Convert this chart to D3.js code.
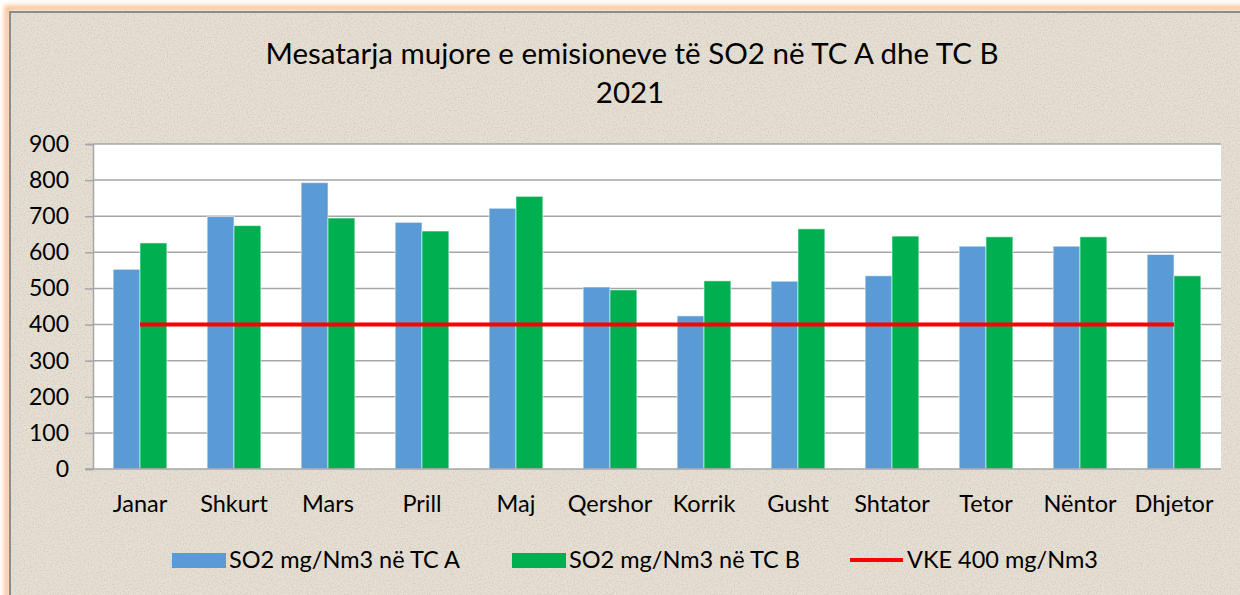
<!DOCTYPE html>
<html>
<head>
<meta charset="utf-8">
<script src="https://cdn.jsdelivr.net/npm/d3@7"></script>
<style>
  html, body { margin: 0; padding: 0; background: #ffffff; }
  svg { display: block; font-family: Lato, "Open Sans", sans-serif; }
</style>
</head>
<body>
<div id="chart"></div>
<script>
// Data
const months = ['Janar', 'Shkurt', 'Mars', 'Prill', 'Maj', 'Qershor', 'Korrik', 'Gusht', 'Shtator', 'Tetor', 'Nëntor', 'Dhjetor'];
const tcA = [553, 699, 793, 683, 722, 504, 424, 520, 535, 617, 617, 594];
const tcB = [626, 674, 695, 659, 755, 496, 521, 665, 645, 643, 643, 535];
const limitValue = 400;
const yTicks = [0, 100, 200, 300, 400, 500, 600, 700, 800, 900];
const seriesNames = ['SO2 mg/Nm3 në TC A', 'SO2 mg/Nm3 në TC B', 'VKE 400 mg/Nm3'];
const titleLines = ['Mesatarja mujore e emisioneve të SO2 në TC A dhe TC B', '2021'];

const W = 1240, H = 595;
const colors = { a: '#5b9bd5', b: '#00b050', limit: '#ff0000', grid: '#a6a6a6', text: '#000000' };

const svg = d3.select('#chart').append('svg')
    .attr('width', W)
    .attr('height', H);

const defs = svg.append('defs');

// parchment-like speckle texture
const filt = defs.append('filter').attr('id', 'paper').attr('x', 0).attr('y', 0).attr('width', '100%').attr('height', '100%');
filt.append('feTurbulence').attr('type', 'fractalNoise').attr('baseFrequency', 0.7).attr('numOctaves', 2).attr('seed', 3).attr('result', 'noise');
filt.append('feColorMatrix').attr('in', 'noise').attr('type', 'matrix')
    .attr('values', '0 0 0 0 0.55  0 0 0 0 0.50  0 0 0 0 0.43  0 0 0 -2.2 1.25')
    .attr('result', 'spk');
filt.append('feComposite').attr('in', 'spk').attr('in2', 'SourceGraphic').attr('operator', 'in');

const glow = defs.append('filter').attr('id', 'glow').attr('x', '-5%').attr('y', '-5%').attr('width', '110%').attr('height', '110%');
glow.append('feGaussianBlur').attr('stdDeviation', 2.5);

// Outer frame
svg.append('rect')
    .attr('x', 7).attr('y', 8).attr('width', W + 20).attr('height', H + 20)
    .attr('fill', 'none').attr('stroke', '#f9b98a').attr('stroke-width', 5)
    .attr('filter', 'url(#glow)');
svg.append('rect')
    .attr('x', 10).attr('y', 12).attr('width', W + 20).attr('height', H + 20)
    .attr('fill', '#e6dfd3');
svg.append('rect')
    .attr('x', 10).attr('y', 12).attr('width', W + 20).attr('height', H + 20)
    .attr('fill', '#e6dfd3').attr('filter', 'url(#paper)').attr('opacity', 0.6);
svg.append('rect')
    .attr('x', 10).attr('y', 12).attr('width', W + 20).attr('height', H + 20)
    .attr('fill', 'none').attr('stroke', '#8c8c8c').attr('stroke-width', 2);

// Plot area
const plot = { left: 93, right: 1221, top: 144, bottom: 469 };

const x = d3.scaleBand()
    .domain(months)
    .range([plot.left, plot.right])
    .paddingInner(1.5 / 3.5)
    .paddingOuter(1.5 / 7);

const xSub = d3.scaleBand()
    .domain(['a', 'b'])
    .range([0, x.bandwidth()]);

const y = d3.scaleLinear()
    .domain([0, 900])
    .range([plot.bottom, plot.top]);

svg.append('rect')
    .attr('x', plot.left).attr('y', plot.top)
    .attr('width', plot.right - plot.left).attr('height', plot.bottom - plot.top)
    .attr('fill', '#ffffff');

// gridlines
svg.append('g').selectAll('line')
    .data(yTicks.filter(d => d > 0))
    .join('line')
    .attr('x1', plot.left).attr('x2', plot.right)
    .attr('y1', d => y(d)).attr('y2', d => y(d))
    .attr('stroke', colors.grid).attr('stroke-width', 1.5);

// y axis
const yAxis = svg.append('g')
    .attr('transform', `translate(${plot.left},0)`)
    .call(d3.axisLeft(y).tickValues(yTicks).tickSize(8).tickPadding(16).tickFormat(d3.format('d')));
yAxis.select('.domain').attr('stroke', colors.grid).attr('stroke-width', 1.5);
yAxis.selectAll('.tick line').attr('stroke', colors.grid).attr('stroke-width', 1.5);
yAxis.selectAll('.tick text')
    .attr('fill', colors.text)
    .attr('font-size', 23)
    .attr('font-family', 'Lato, sans-serif');

// bars
const rows = months.map((m, i) => ({ month: m, a: tcA[i], b: tcB[i] }));

const groups = svg.append('g').selectAll('g')
    .data(rows)
    .join('g')
    .attr('transform', d => `translate(${x(d.month)},0)`);

groups.selectAll('rect')
    .data(d => ['a', 'b'].map(k => ({ key: k, value: d[k] })))
    .join('rect')
    .attr('x', d => xSub(d.key))
    .attr('y', d => y(d.value))
    .attr('width', xSub.bandwidth())
    .attr('height', d => y(0) - y(d.value))
    .attr('fill', d => colors[d.key])
    .attr('stroke', 'rgba(255,255,255,0.55)')
    .attr('stroke-width', 1);

// x axis baseline
svg.append('line')
    .attr('x1', plot.left - 8).attr('x2', plot.right)
    .attr('y1', y(0)).attr('y2', y(0))
    .attr('stroke', colors.grid).attr('stroke-width', 1.5);

// limit line
const limitLine = d3.line()
    .x(d => x(d) + x.bandwidth() / 2)
    .y(() => y(limitValue));
svg.append('path')
    .datum(months)
    .attr('d', limitLine)
    .attr('fill', 'none')
    .attr('stroke', colors.limit)
    .attr('stroke-width', 4);

// x labels
svg.append('g').selectAll('text')
    .data(months)
    .join('text')
    .attr('x', d => x(d) + x.bandwidth() / 2)
    .attr('y', 512)
    .attr('text-anchor', 'middle')
    .attr('font-size', 23.5)
    .attr('fill', colors.text)
    .text(d => d);

// title
svg.append('text')
    .attr('x', 632).attr('y', 64)
    .attr('text-anchor', 'middle')
    .attr('font-size', 29.5)
    .attr('fill', colors.text)
    .text(titleLines[0]);
svg.append('text')
    .attr('x', 630).attr('y', 103)
    .attr('text-anchor', 'middle')
    .attr('font-size', 29.5)
    .attr('fill', colors.text)
    .text(titleLines[1]);

// legend
const legendItems = [
    { name: seriesNames[0], color: colors.a, type: 'rect', x: 172 },
    { name: seriesNames[1], color: colors.b, type: 'rect', x: 512 },
    { name: seriesNames[2], color: colors.limit, type: 'line', x: 850 }
];
const legendY = 560;
const lg = svg.append('g').selectAll('g')
    .data(legendItems)
    .join('g')
    .attr('transform', d => `translate(${d.x},${legendY})`);

lg.filter(d => d.type === 'rect').append('rect')
    .attr('x', 0).attr('y', -7).attr('width', 54).attr('height', 15)
    .attr('fill', d => d.color);
lg.filter(d => d.type === 'line').append('line')
    .attr('x1', 0).attr('x2', 53).attr('y1', 0).attr('y2', 0)
    .attr('stroke', d => d.color).attr('stroke-width', 4);
lg.append('text')
    .attr('x', 57).attr('y', 8)
    .attr('font-size', 23.5)
    .attr('fill', colors.text)
    .text(d => d.name);
</script>
</body>
</html>
